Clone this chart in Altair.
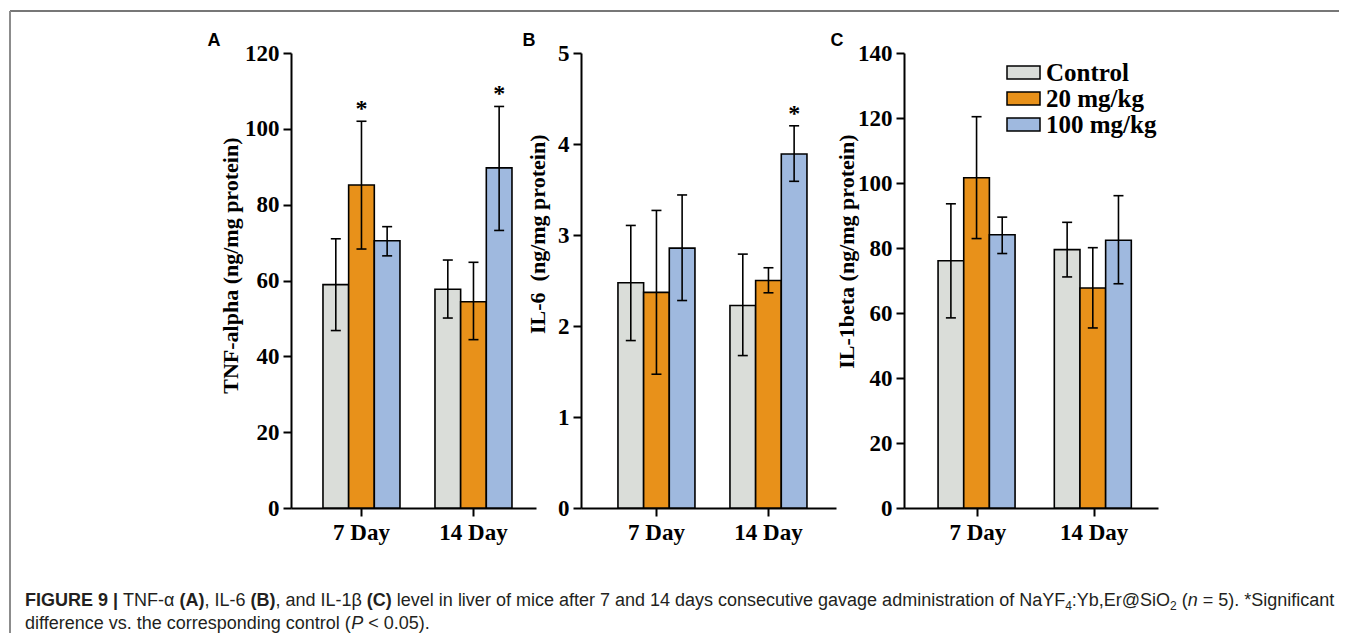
import altair as alt
import pandas as pd

# ---------------- data ----------------
days = ["7 Day", "14 Day"]
groups = ["Control", "20 mg/kg", "100 mg/kg"]
colors = ["#DADDD9", "#E8911A", "#9FB9DF"]

# order: 7 Day (Control, 20, 100), 14 Day (Control, 20, 100)
tnf_mean = [58.9, 85.2, 70.5, 57.7, 54.4, 89.7]
tnf_low = [46.8, 68.3, 66.5, 50.1, 44.4, 73.2]
tnf_high = [71.0, 102.0, 74.2, 65.4, 64.8, 105.9]
tnf_sig = [False, True, False, False, False, True]

il6_mean = [2.475, 2.37, 2.856, 2.225, 2.5, 3.89]
il6_low = [1.84, 1.47, 2.28, 1.675, 2.365, 3.59]
il6_high = [3.105, 3.27, 3.44, 2.79, 2.64, 4.2]
il6_sig = [False, False, False, False, False, True]

il1b_mean = [76.1, 101.6, 84.1, 79.5, 67.7, 82.4]
il1b_low = [58.5, 82.9, 78.3, 71.1, 55.4, 69.0]
il1b_high = [93.6, 120.4, 89.5, 87.9, 80.1, 96.1]
il1b_sig = [False, False, False, False, False, False]

tnf_ticks = [0, 20, 40, 60, 80, 100, 120]
il6_ticks = [0, 1, 2, 3, 4, 5]
il1b_ticks = [0, 20, 40, 60, 80, 100, 120, 140]

caption_line1 = [
    ("FIGURE 9 |", "b", False), ("TNF-\u03b1", "r", True), ("(A)", "b", True),
    (", IL-6", "r", False), ("(B)", "b", True), (", and IL-1\u03b2", "r", False),
    ("(C)", "b", True),
    ("level in liver of mice after 7 and 14 days consecutive gavage administration of NaYF", "r", True),
    ("4", "s", False), (":Yb,Er@SiO", "r", False), ("2", "s", False), ("(", "r", True),
    ("n", "i", False), ("= 5). *Significant", "r", True),
]
caption_line2 = [
    ("difference vs. the corresponding control (", "r", False), ("P", "i", False),
    ("< 0.05).", "r", True),
]

SERIF = "Liberation Serif"
SANS = "Liberation Sans"

# --------------- caption layout helpers (Arial metrics) ---------------
REG = {' ': 278, '!': 278, '(': 333, ')': 333, '*': 389, ',': 278, '-': 333, '.': 278,
       '/': 278, ':': 278, ';': 278, '<': 584, '=': 584, '>': 584, '@': 1015, '|': 260,
       'A': 667, 'B': 667, 'C': 722, 'D': 722, 'E': 667, 'F': 611, 'G': 778, 'H': 722,
       'I': 278, 'J': 500, 'K': 667, 'L': 556, 'M': 833, 'N': 722, 'O': 778, 'P': 667,
       'Q': 778, 'R': 722, 'S': 667, 'T': 611, 'U': 722, 'V': 667, 'W': 944, 'X': 667,
       'Y': 667, 'Z': 611, 'a': 556, 'b': 556, 'c': 500, 'd': 556, 'e': 556, 'f': 278,
       'g': 556, 'h': 556, 'i': 222, 'j': 222, 'k': 500, 'l': 222, 'm': 833, 'n': 556,
       'o': 556, 'p': 556, 'q': 556, 'r': 333, 's': 500, 't': 278, 'u': 556, 'v': 500,
       'w': 722, 'x': 500, 'y': 500, 'z': 500, '\u03b1': 578, '\u03b2': 575}
BOLD = dict(REG)
BOLD.update({'A': 722, 'B': 722, 'C': 722, 'D': 722, 'F': 611, 'G': 778, 'I': 278,
             'R': 722, 'U': 722, 'E': 667, '|': 280, ' ': 278})
for d in "0123456789":
    REG[d] = 556
    BOLD[d] = 556

CAP_FS = 18
SUB_FS = 12


def text_width(s, style):
    table = BOLD if style == "b" else REG
    fs = SUB_FS if style == "s" else CAP_FS
    return sum(table.get(ch, 556) for ch in s) * fs / 1000.0


def caption_layers(runs, x0, y):
    out = []
    x = x0
    for txt, style, space in runs:
        if space:
            x += REG[' '] * CAP_FS / 1000.0
        kw = dict(font=SANS, fontSize=CAP_FS, color="#231f20", align="left",
                  baseline="alphabetic")
        if style == "b":
            kw["fontWeight"] = "bold"
        if style == "i":
            kw["fontStyle"] = "italic"
        yy = y
        if style == "s":
            kw["fontSize"] = SUB_FS
            yy = y + 4
        out.append(
            alt.Chart(pd.DataFrame({"t": [txt]})).mark_text(**kw).encode(
                text="t:N", x=alt.value(x), y=alt.value(yy))
        )
        x += text_width(txt, style)
    return out


# ---------------- panels ----------------
def panel(mean, low, high, sig, ticks, title, width, rng_w, pi, po, align,
          title_x, title_y, letter, letter_x, legend=None, extra=None):
    df = pd.DataFrame({
        "day": [d for d in days for g in groups],
        "group": [g for d in days for g in groups],
        "mean": mean, "low": low, "high": high, "sig": sig,
    })
    base = alt.Chart(df)
    xenc = alt.X("day:N", sort=days,
                 scale=alt.Scale(range=[0, rng_w], paddingInner=pi, paddingOuter=po,
                                 align=align),
                 axis=alt.Axis(title=None, labelAngle=0, labelPadding=5, tickSize=8))
    xoff = alt.XOffset("group:N", sort=groups,
                       scale=alt.Scale(paddingInner=0, paddingOuter=0))
    yaxis = alt.Axis(values=ticks, title=title, titleX=title_x, titleY=title_y,
                     titleAlign="right", titleBaseline="middle", titleAngle=270,
                     labelPadding=4, tickSize=8)
    yscale = alt.Scale(domain=[ticks[0], ticks[-1]], nice=False)

    def Y(field):
        return alt.Y(field, scale=yscale, axis=yaxis)

    bars = base.mark_bar(stroke="black", strokeWidth=1.6).encode(
        x=xenc, xOffset=xoff, y=Y("mean:Q"),
        color=alt.Color("group:N", sort=groups,
                        scale=alt.Scale(domain=groups, range=colors),
                        legend=legend),
    )
    err = base.mark_rule(color="black", strokeWidth=1.6).encode(
        x=xenc, xOffset=xoff, y=Y("low:Q"), y2=alt.Y2("high:Q"))
    cap_lo = base.mark_tick(color="black", thickness=1.6, size=10, opacity=1).encode(
        x=xenc, xOffset=xoff, y=Y("low:Q"))
    cap_hi = base.mark_tick(color="black", thickness=1.6, size=10, opacity=1).encode(
        x=xenc, xOffset=xoff, y=Y("high:Q"))
    stars = base.transform_filter("datum.sig").mark_text(
        text="*", font=SERIF, fontSize=24, fontWeight="bold", color="black",
        baseline="alphabetic", dy=-5).encode(x=xenc, xOffset=xoff, y=Y("high:Q"))
    lett = alt.Chart(pd.DataFrame({"t": [letter]})).mark_text(
        font=SANS, fontSize=18, fontWeight="bold", color="black",
        align="center", baseline="middle").encode(
        text="t:N", x=alt.value(letter_x), y=alt.value(-12))
    layers = [bars, err, cap_lo, cap_hi, stars, lett]
    if extra:
        layers += extra
    return alt.layer(*layers).properties(width=width, height=455)


# frame + caption attached to panel A (coordinates relative to its plot origin)
frame_df = pd.DataFrame({"k": [0]})
frame_top = alt.Chart(frame_df).mark_rule(color="#4a4a4a", strokeWidth=1.5).encode(
    x=alt.value(-281), x2=alt.value(1048), y=alt.value(-42))
frame_left = alt.Chart(frame_df).mark_rule(color="#8c8c8c", strokeWidth=2).encode(
    x=alt.value(-281), y=alt.value(-42), y2=alt.value(580))
cap1 = caption_layers(caption_line1, 24 - 290, 605 - 52)
cap2 = caption_layers(caption_line2, 24 - 290, 628 - 52)

pA = panel(tnf_mean, tnf_low, tnf_high, tnf_sig, tnf_ticks,
           "TNF-alpha (ng/mg protein)", 245, 245, 0.3125, 0.25, 0.571,
           -61, 84, "A", -77, extra=[frame_top, frame_left] + cap1 + cap2)
pB = panel(il6_mean, il6_low, il6_high, il6_sig, il6_ticks,
           "IL-6\u00a0 (ng/mg protein)", 278, 255, 0.3125, 0.2946, 0.56,
           -44, 81, "B", -52)
legendC = alt.Legend(title=None, orient="none", legendX=107, legendY=7,
                     symbolType="M-1.5,-0.6H1.5V0.6H-1.5Z", symbolSize=484,
                     symbolStrokeColor="black", symbolStrokeWidth=1.5,
                     symbolOpacity=1, labelFont=SERIF, labelFontSize=25,
                     labelFontWeight="bold", labelColor="black", labelOffset=10,
                     rowPadding=-1, padding=0)
pC = panel(il1b_mean, il1b_low, il1b_high, il1b_sig, il1b_ticks,
           "IL-1beta (ng/mg protein)", 254, 254, 0.315, 0.25, 0.586,
           -58, 81, "C", -67, legend=legendC)

chart = alt.HConcatChart(hconcat=[pA, pB, pC], spacing=45, bounds="flush").resolve_legend(
    color="independent"
).properties(
    padding={"left": 1, "top": 2, "right": 0, "bottom": 0},
    background="white",
).configure_view(stroke=None).configure_axis(
    grid=False, domainColor="black", domainWidth=2, tickColor="black", tickWidth=2,
    labelFont=SERIF, labelFontSize=23, labelFontWeight="bold", labelColor="black",
    titleFont=SERIF, titleFontSize=22, titleFontWeight="bold", titleColor="black",
)

chart.save("out.html", embed_options={"renderer": "svg", "actions": False})
